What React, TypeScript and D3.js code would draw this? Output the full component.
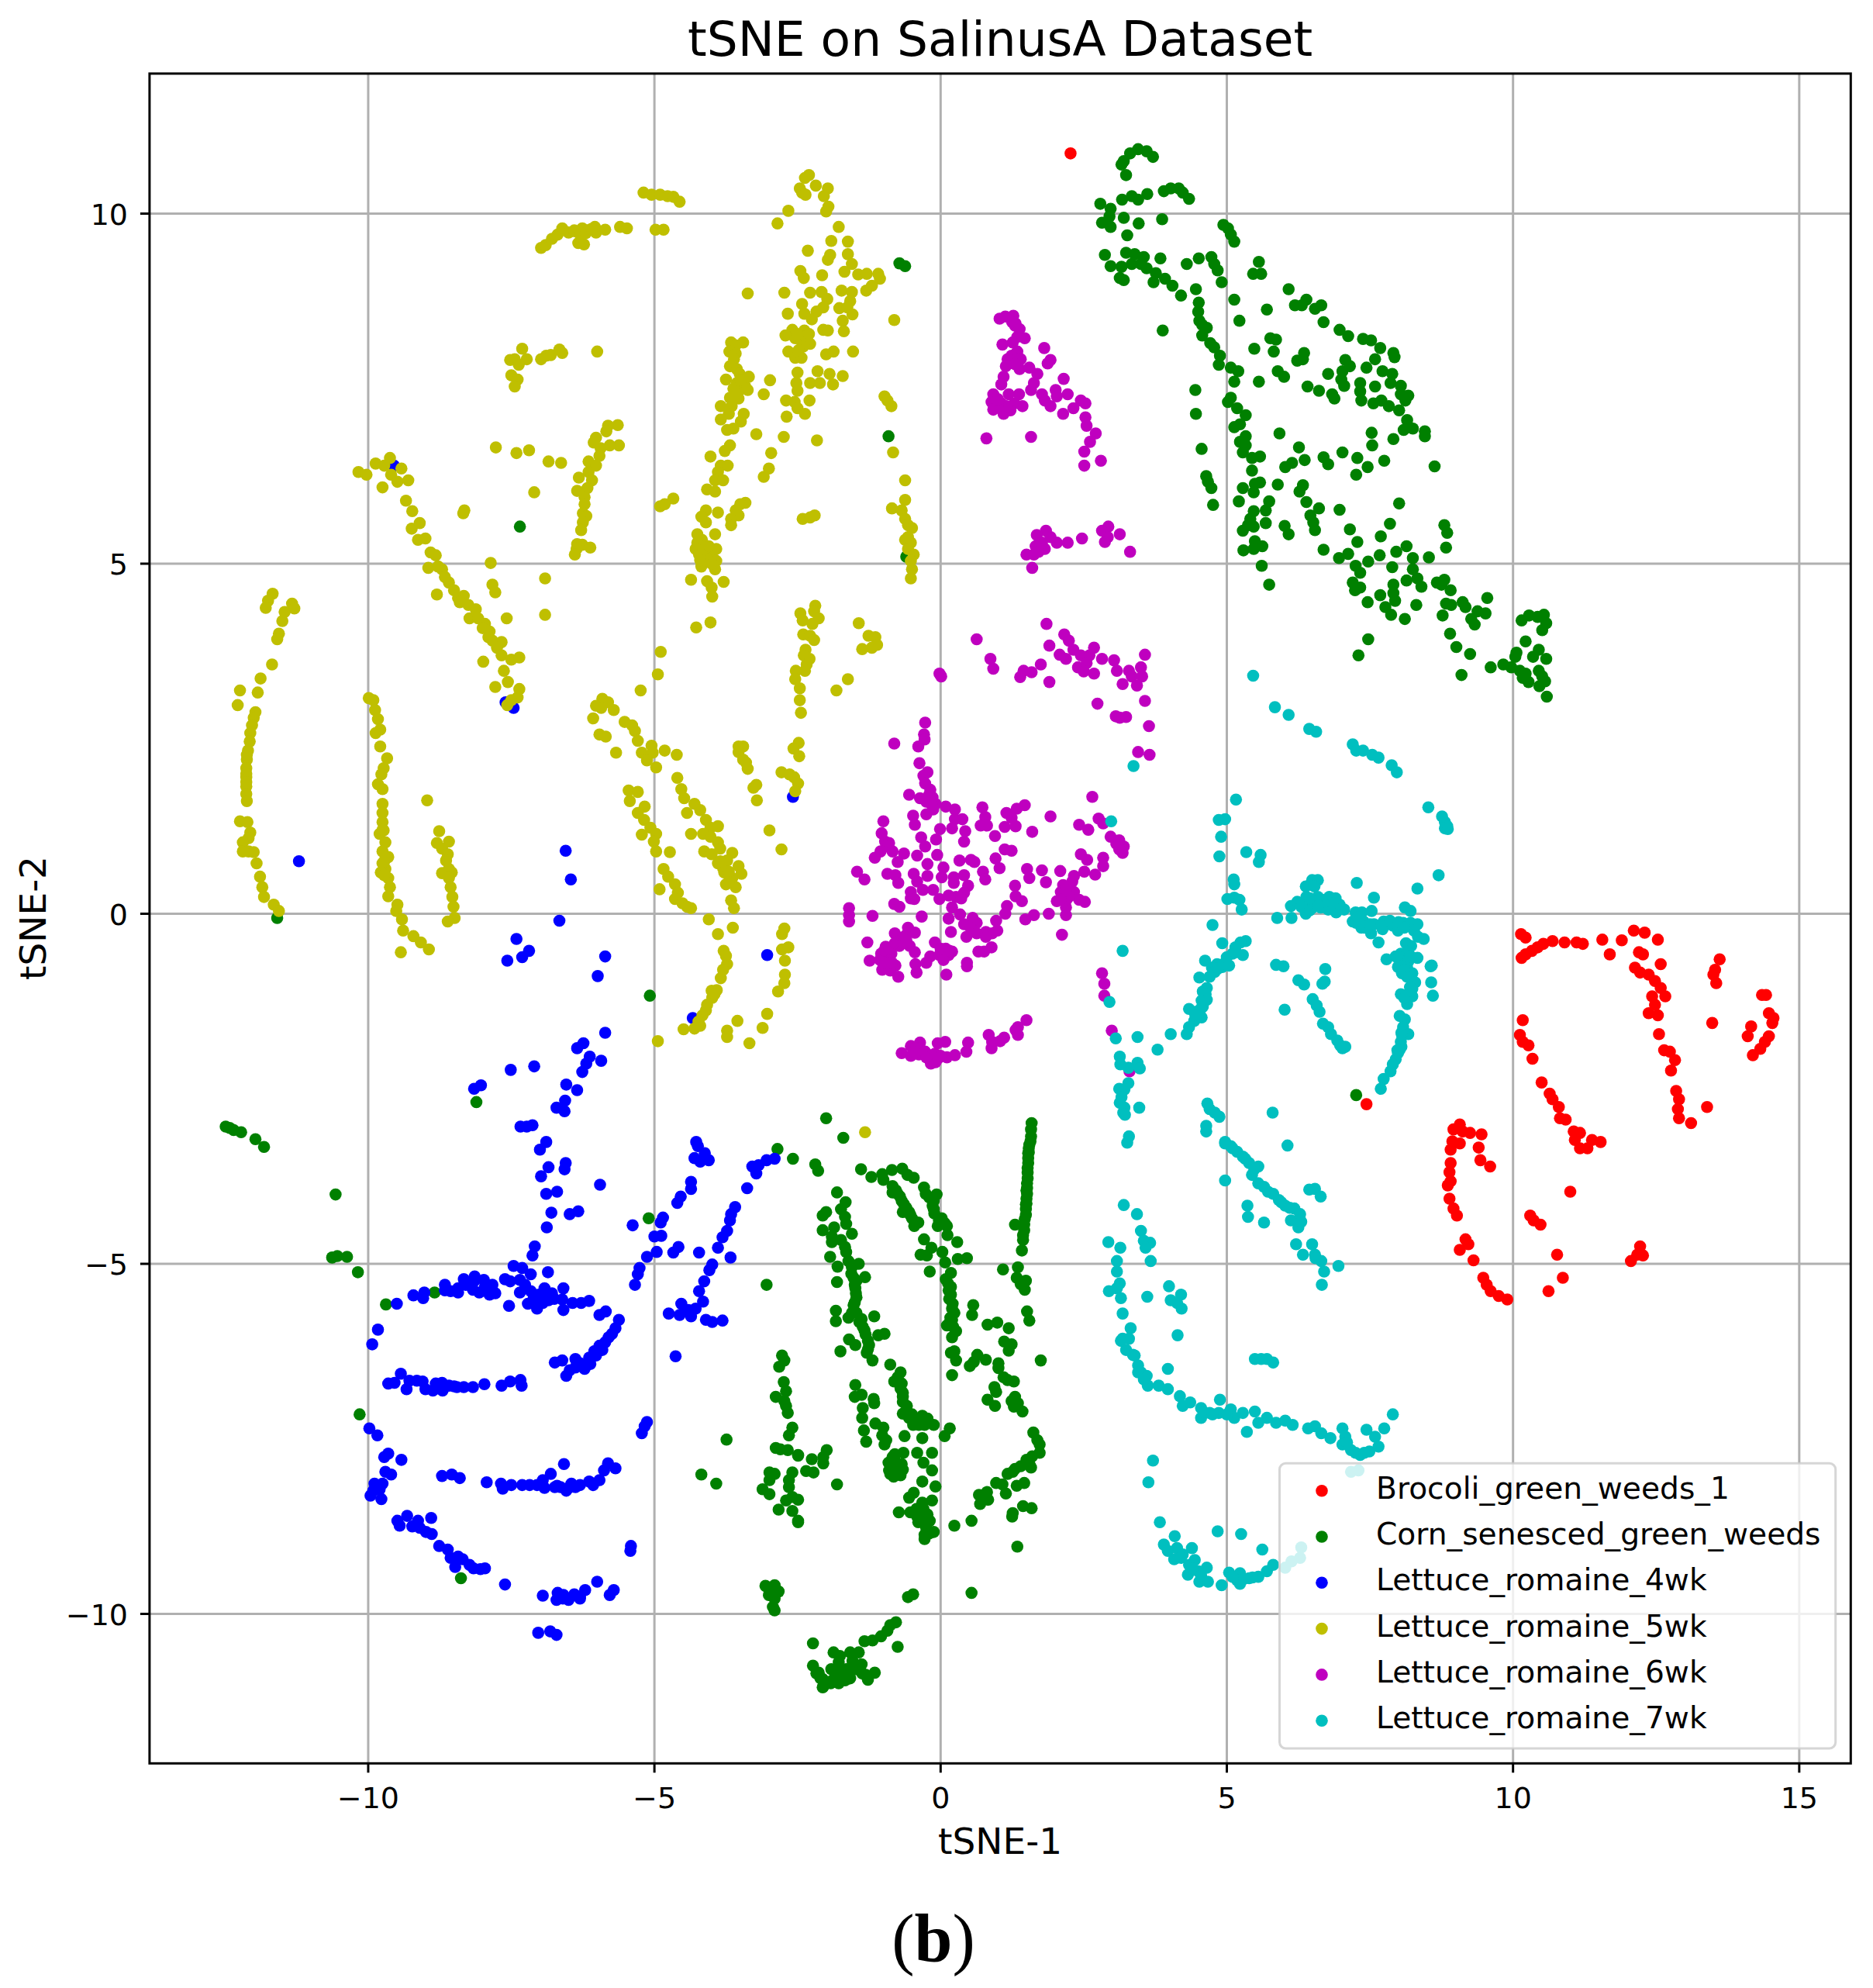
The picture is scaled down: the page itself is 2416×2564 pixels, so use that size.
import React from "react";
import * as d3 from "d3";

const brocoli = [2.27,10.86,7.44,-2.72,
10.14,-.29,10.22,-.34,10.15,-.63,10.22,-.58,10.33,-.53,10.43,-.48,10.53,-.43,10.69,-.39,10.9,-.41,11.11,-.41,11.22,-.43,11.56,-.37,11.69,-.58,11.9,-.38,12.11,-.24,12.3,-.27,12.53,-.37,12.2,-.55,12.27,-.58,12.58,-.72,12.13,-.77,12.22,-.84,12.37,-.87,12.48,-.96,12.43,-1.18,12.58,-1.06,12.66,-1.18,12.48,-1.3,12.37,-1.42,12.53,-1.45,12.55,-1.72,12.64,-1.95,12.74,-1.97,12.83,-2.09,12.76,-2.24,12.85,-2.53,12.9,-2.65,12.88,-2.79,12.9,-2.92,13.11,-2.99,13.39,-2.76,13.48,-1.56,13.61,-.65,13.53,-.8,13.5,-.87,13.55,-.99,14.35,-1.16,14.42,-1.16,14.47,-1.42,14.55,-1.49,14.53,-1.56,14.16,-1.61,14.1,-1.75,14.47,-1.75,14.4,-1.83,14.32,-1.93,14.19,-2.02,
10.17,-1.52,10.12,-1.73,10.17,-1.83,10.27,-1.88,10.34,-2.07,10.5,-2.41,10.64,-2.57,10.69,-2.65,10.8,-2.76,10.82,-2.92,10.92,-2.94,11.06,-3.11,11.17,-3.13,11.08,-3.23,11.17,-3.35,11.3,-3.35,11.38,-3.23,11.53,-3.26,
9.07,-3.01,8.96,-3.08,9.12,-3.11,8.94,-3.25,9.07,-3.28,9.25,-3.13,9.45,-3.15,9.4,-3.34,9.43,-3.52,9.6,-3.61,8.91,-3.37,8.91,-3.56,8.89,-3.69,8.91,-3.82,8.86,-3.88,8.89,-4.07,8.96,-4.21,9.02,-4.31,9.17,-4.65,9.22,-4.72,9.07,-4.8,9.31,-4.95,9.48,-5.2,9.54,-5.3,9.61,-5.39,9.75,-5.46,9.9,-5.51,
11,-3.97,10.3,-4.31,10.36,-4.38,10.48,-4.44,10.77,-4.87,10.87,-5.2,10.62,-5.39,12.22,-4.75,12.17,-4.87,12.06,-4.96,12.27,-4.88];

const cornUpper = [3.16,10.7,3.24,10.55,3.2,10.75,3.31,10.86,3.45,10.92,3.6,10.89,3.71,10.81,3.9,10.32,4.02,10.36,4.16,10.36,4.23,10.3,4.34,10.21,3.61,10.28,3.34,10.25,3.45,10.2,3.17,10.2,2.79,10.14,2.97,10.07,3.2,9.94,2.95,9.96,2.82,9.87,2.97,9.81,3.46,9.86,3.87,9.92,3.26,9.69,4.94,9.84,5.02,9.79,5.07,9.7,5.13,9.6,
2.87,9.41,2.97,9.25,3.24,9.44,3.39,9.42,3.55,9.38,3.84,9.36,3.34,9.28,3.5,9.28,3.6,9.22,3.16,9.24,3.13,9.08,3.2,9.05,3.76,9.15,3.92,9.07,3.72,9.02,4.05,8.97,4.2,8.83,4.3,9.28,4.51,9.36,4.73,9.38,4.78,9.28,4.84,9.19,5.56,9.31,5.46,9.14,5.6,9.14,4.91,9.02,5.13,8.77,4.46,8.92,4.51,8.73,5.7,8.63,5.22,8.47,6.08,8.92,6.19,8.69,6.39,8.77,6.31,8.69,6.54,8.64,6.65,8.69,6.69,8.45,6.97,8.34,7.12,8.25,7.38,8.21,7.52,8.19,7.68,8.08,7.91,8.01,7.93,7.95,3.88,8.33,
4.5,8.6,4.52,8.47,4.57,8.41,4.65,8.37,4.57,8.26,4.71,8.15,4.78,8.09,4.88,7.97,4.86,7.84,5.07,7.8,5.2,7.75,5.13,7.6,5.56,7.6,5.48,8.07,5.76,8.22,5.86,8.2,5.82,8.03,6.35,8.01,6.23,7.9,6.33,7.92,5.89,7.75,6,7.67,6.77,7.71,7.07,7.91,7.15,7.82,7.02,7.75,7.44,7.8,7.59,7.92,7.72,7.75,7.89,7.71,7,7.63,7.05,7.54,6.41,7.53,6.61,7.47,7.33,7.58,7.33,7.46,7.59,7.53,7.86,7.58,8.04,7.54,6.84,7.42,6.88,7.36,7.35,7.33,7.56,7.29,7.7,7.33,7.83,7.25,8.04,7.42,8.17,7.4,8.12,7.33,8.01,7.19,
4.45,7.48,4.46,7.14,5.07,7.37,5.02,7.31,5.18,7.22,5.33,7.12,5.23,6.99,5.13,6.95,5.33,6.82,5.23,6.74,5.33,6.69,5.28,6.59,5.44,6.51,5.58,6.53,5.44,6.33,4.56,6.64,4.64,6.25,4.67,6.17,4.73,6.08,4.76,5.84,
5.92,6.86,6.26,6.66,6.36,6.48,6.14,6.44,6.02,6.38,6.69,6.52,6.77,6.42,7.02,6.59,7.28,6.51,7.46,6.38,7.26,6.27,7.75,6.47,7.53,6.87,7.54,6.69,7.91,6.78,8.15,7.05,8.09,6.91,8.25,6.93,8.46,6.89,8.46,6.82,8.63,6.39,
5.28,6.08,5.49,6.14,5.58,6.16,5.47,6.02,5.89,6.13,6.33,6.12,6.27,6.03,5.21,5.89,5.74,5.89,5.68,5.76,6.39,5.88,6.61,5.79,5.47,5.75,5.41,5.64,5.37,5.55,5.47,5.53,5.28,5.47,5.68,5.58,6.46,5.69,6.51,5.59,6.54,5.48,6.01,5.54,6.08,5.42,6.97,5.77,7.15,5.49,7.85,5.57,8.01,5.86,8.8,5.55,8.85,5.44,8.83,5.23,7.69,5.39,7.28,5.31,8.14,5.25,7.96,5.17,8.53,5.09,8.25,5.08,7.67,5.12,7.12,5.14,6.96,5.08,6.69,5.2,5.49,5.32,5.62,5.25,5.47,5.21,5.29,5.19,5.61,4.97,5.74,4.7,
7.25,4.97,7.47,5.03,7.89,4.95,7.33,4.87,8.25,4.92,8.33,4.79,8.14,4.76,7.91,4.7,8.4,4.67,8.67,4.73,8.8,4.77,8.75,4.7,7.2,4.73,7.33,4.66,7.24,4.62,7.68,4.55,7.91,4.58,7.94,4.47,8.91,4.62,7.46,4.45,7.77,4.38,8.31,4.41,8.83,4.43,8.92,4.41,9.12,4.45,9.17,4.38,9.55,4.51,9.38,4.32,9.52,4.29,9.27,4.21,7.87,4.27,8.11,4.21,8.77,4.26,9.33,4.13,8.9,4,7.47,3.92,7.3,3.69,9.01,3.81,9.25,3.71,9.1,3.41,9.61,3.52,9.83,3.56,9.97,3.52,
10.15,4.19,10.28,4.26,10.43,4.24,10.54,4.27,10.58,4.15,10.51,4.05,10.22,3.89,10.06,3.73,10.04,3.67,10.45,3.77,10.35,3.67,10.58,3.64,10.12,3.47,10.22,3.43,10.17,3.37,10.45,3.47,10.51,3.39,10.27,3.31,10.56,3.32,10.46,3.25,10.59,3.1];

const cornStray = [-.72,9.29,-.62,9.25,-.91,6.82,-7.35,5.53,-11.59,-.06,-.6,5.1,7.26,-2.59,-5.08,-1.17,-8.11,-2.69,-12.49,-3.04,-12.42,-3.06,-12.35,-3.09,-12.22,-3.12,-11.97,-3.22,-11.82,-3.33,-10.57,-4.01,-10.63,-4.91,-10.54,-4.89,-10.37,-4.9,-10.18,-5.12,-9.69,-5.58,-8.84,-5.41,-10.15,-7.15,-8.38,-9.49,-5.1,-4.35,-2,-2.92,-1.7,-3.2,-2.85,-3.36,-2.58,-3.5,-3.04,-5.3,-2.77,-6.31,-2.73,-6.38,-2.82,-6.47,-2.74,-6.69,-2.7,-6.82,-2.88,-6.9,-2.73,-6.96,-2.7,-7.03,-2.67,-7.13,-2.59,-7.34,-2.65,-7.45,-3.74,-7.51,-2.88,-7.63,-2.8,-7.65,-2.67,-7.66,-2.49,-7.74,-4.18,-8.01,-2.59,-7.98,-2.99,-7.98,-2.9,-8,-2.65,-8.09,-2.99,-8.09,-3.92,-8.14,-2.65,-8.19,-3.11,-8.22,-2.99,-8.29,-2.59,-8.33,-2.7,-8.38,-2.83,-8.51,-2.59,-8.53,-2.49,-8.69,.54,-9.7,
-3.06,-9.6,-2.99,-9.63,-2.9,-9.59,-2.83,-9.68,-3,-9.73,-2.9,-9.78,-2.93,-9.9,-2.9,-9.95,-.57,-9.76,-.48,-9.72,
-.88,-10.16,-.78,-10.12,-.93,-10.24,-1.04,-10.32,-1.19,-10.38,-1.33,-10.39,-.75,-10.47,-2.23,-10.42,-1.87,-10.55,-1.43,-10.55,-1.58,-10.55,-1.76,-10.6,-1.54,-10.67,-1.78,-10.69,-2.23,-10.74,-1.4,-10.74,-1.91,-10.79,-2.13,-10.84,-1.65,-10.79,-1.15,-10.84,-1.31,-10.87,-2.06,-10.93,-1.91,-10.96,-1.78,-10.95,-1.6,-10.92,-1.27,-10.94,-2.06,-11.05,
1.59,-2.99,1.58,-3.08,1.58,-3.18,1.55,-3.3,1.53,-3.42,1.54,-3.41,1.53,-3.56,1.52,-3.7,1.51,-3.85,1.51,-4,1.49,-4.15,1.49,-4.3,1.5,-3.95,1.5,-4.14];

const cornCentre = [-2.19,-3.58,-2.14,-3.67,-1.39,-3.65,-1.21,-3.76,-1.02,-3.72,-1,-3.8,-.85,-3.66,-.67,-3.64,-.58,-3.73,-.47,-3.77,-.84,-3.89,-.84,-3.98,-.71,-4.04,-.64,-4.15,-.66,-4.26,-.55,-4.26,-.5,-4.35,-.39,-4.41,-.46,-4.46,-.29,-3.91,-.26,-4,-.07,-4.01,-.14,-4.17,-.11,-4.28,.02,-4.35,-.05,-4.46,.11,-4.46,.12,-4.59,.29,-4.69,-.29,-4.65,-.16,-4.77,.03,-4.83,-.35,-4.87,-.24,-4.88,.08,-4.98,.3,-4.93,.46,-4.92,-.19,-5.11,.18,-5.13,.09,-5.22,.18,-5.33,.18,-5.44,.21,-5.57,.24,-5.7,.17,-5.77,.11,-5.88,.27,-5.96,.2,-6.05,.18,-6.27,.27,-6.38,.24,-6.25,.2,-6.59,
.57,-5.59,.55,-5.73,.82,-5.87,.99,-5.84,1.19,-5.92,1.11,-6.11,1.24,-6.15,1.19,-6.24,.64,-6.3,.79,-6.37,.51,-6.46,.58,-6.4,1.01,-6.42,1.01,-6.49,1.1,-6.62,1.28,-6.68,1.17,-6.66,.94,-6.76,.97,-6.83,.82,-6.94,.95,-7.03,1.3,-6.9,1.24,-6.96,1.35,-6.99,1.28,-7.04,1.43,-7.11,1.75,-6.38,1.51,-5.68,1.55,-5.81,1.09,-5.08,1.35,-5.05,1.33,-5.2,1.49,-5.24,1.4,-5.29,1.47,-5.37,1.42,-4.81,1.44,-4.59,1.3,-4.44,1.46,-4.44,
1.62,-7.41,1.69,-7.52,1.73,-7.58,1.73,-7.7,1.6,-7.75,1.58,-7.91,1.4,-7.89,1.26,-7.97,1.17,-8,1.46,-8.13,1.33,-8.17,.97,-8.13,1.08,-8.15,1.14,-8.28,.81,-8.26,.67,-8.3,.83,-8.37,.69,-8.43,1.44,-8.46,1.59,-8.49,1.26,-8.56,1.25,-8.61,.54,-8.67,.24,-8.74,1.34,-9.04,
-1.81,-3.98,-1.66,-4.12,-1.74,-4.22,-2,-4.26,-2.06,-4.31,-1.67,-4.33,-1.65,-4.43,-1.55,-4.57,-2.06,-4.52,-1.86,-4.48,-1.9,-4.61,-1.9,-4.69,-1.74,-4.66,-1.67,-4.76,-1.65,-4.83,-1.93,-4.9,-1.8,-5.04,-1.61,-4.96,-1.43,-5,-1.32,-5.19,-1.56,-5.14,-1.47,-5.24,-1.81,-5.26,-1.49,-5.35,-1.47,-5.48,-1.52,-5.59,-1.83,-5.67,-1.83,-5.82,-1.61,-5.77,-1.47,-5.7,-1.38,-5.79,-1.16,-5.75,-1.36,-5.9,-1.31,-6.01,-.98,-6,-1.09,-6.02,-1.6,-6.08,-1.49,-6.16,-1.25,-6.16,-1.75,-6.25,-1.29,-6.27,-1.19,-6.38,-.88,-6.44,-.7,-6.55,-.81,-6.68,-.68,-6.71,-.66,-6.84,-.66,-6.97,-.59,-7.03,-.66,-7.14,-.5,-7.15,-.32,-7.17,-.23,-7.21,-.48,-7.3,-.28,-7.3,-.12,-7.3,.16,-7.35,.07,-7.46,-.32,-7.49,-.63,-7.46,
-1.49,-6.73,-1.38,-6.87,-1.5,-6.9,-1.17,-6.93,-1.16,-6.99,-1.36,-7.06,-1.37,-7.2,-1.34,-7.38,-1.3,-7.54,-1.14,-7.28,-1,-7.34,-1.02,-7.45,-.95,-7.52,-.98,-7.58,
-.65,-7.7,-.84,-7.76,-.91,-7.84,-.79,-7.82,-.68,-7.86,-.66,-7.94,-.88,-8,-.82,-8.04,-.7,-8.02,-.41,-7.7,-.3,-7.84,-.15,-7.7,-.15,-7.95,-.32,-8.11,-.09,-8.18,-.47,-8.27,-.55,-8.34,-.15,-8.38,-.32,-8.41,-.73,-8.55,-.53,-8.55,-.23,-8.58,-.41,-8.61,-.39,-8.69,-.19,-8.67,-.12,-8.83,-.28,-8.87,-.28,-8.93,
-1.99,-7.66,-2.05,-7.76,-2.05,-7.85,-2.25,-7.79,-2.35,-7.96,-2.22,-7.98,-2.49,-7.73,-1.81,-8.15,-2.49,-8.37,-2.49,-8.67];

const cornDense = [-2.05,-11.04,-1.92,-10.99,-1.78,-10.99,-1.67,-10.95,-1.8,-10.87,-1.58,-10.92,-1.87,-10.81,-2.1,-10.92,-2.17,-10.85,-1.69,-10.81,-1.37,-10.85,-1.3,-10.88,-1.48,-10.79,-1.38,-10.72,-1.54,-10.74,
1.57,-3.25,1.54,-3.35,1.53,-3.49,1.52,-3.63,1.52,-3.78,1.51,-3.92,1.5,-4.07,1.49,-4.22,1.47,-4.36,1.46,-4.52,1.44,-4.66,
-.78,-3.95,-.75,-4,-.68,-4.1,-.6,-4.2,-.53,-4.3,-.45,-4.4,-.2,-4.05,-.12,-4.1,-.12,-4.22,-.03,-4.38,.07,-4.42,.13,-5.28,.14,-5.38,.15,-5.5,.2,-5.64,.2,-5.8,.15,-5.85,.22,-5.9,-1.52,-5.2,-1.5,-5.3,-1.55,-5.05,-1.48,-5.42,-1.5,-5.55,-1.55,-5.7,-1.42,-5.83,-1.33,-5.95,-1.27,-6.1,-1.27,-6.22,-.75,-6.62,-.7,-6.78,-.66,-6.9,-.6,-7.1,-.55,-7.2,-.42,-7.22,-.38,-7.3,-.84,-7.9,-.78,-7.92,-.75,-7.98,-.8,-7.72,-.9,-7.95,-.42,-8.5,-.35,-8.55,-.3,-8.7,-.25,-8.78,-.2,-8.85,-.3,-8.5,1.5,-7.8,1.55,-7.85,1.3,-7.93];

const week4 = [-11.21,.75,-6.55,.9,-6.46,.49,-6.66,-.1,-7.6,3.02,-7.46,2.94,-2.58,1.67,-9.55,6.4,-4.33,-1.49,
-7.41,-.36,-7.57,-.67,-7.31,-.62,-7.19,-.53,-5.86,-.61,-5.99,-.89,-3.03,-.59,-5.86,-1.7,-6.24,-1.85,-6.35,-1.92,-6.13,-2.04,-5.93,-2.1,-6.19,-2.14,-6.26,-2.26,-7.1,-2.18,-7.51,-2.23,-8.03,-2.45,-8.15,-2.5,-6.54,-2.44,-6.35,-2.52,-6.56,-2.67,-6.71,-2.77,-6.57,-2.82,-7.34,-3.04,-7.23,-3.04,-7.13,-3.02,-6.89,-3.26,-7,-3.37,-6.55,-3.56,-6.57,-3.65,-6.85,-3.62,-6.98,-3.75,-5.95,-3.87,-6.89,-4,-6.7,-3.97,-6.8,-4.27,-6.48,-4.29,-6.33,-4.25,-6.88,-4.48,-7.09,-4.75,-7.13,-4.88,-7.46,-5.03,-7.31,-5.06,-7.16,-5.15,-6.86,-5.12,
-9.21,-5.45,-9.02,-5.41,-9.04,-5.49,-8.66,-5.3,-8.66,-5.38,-8.56,-5.39,-8.43,-5.35,-8.33,-5.22,-8.43,-5.41,-8.25,-5.3,-8.14,-5.18,-8.17,-5.37,-8.06,-5.41,-7.98,-5.23,-7.96,-5.33,-7.83,-5.3,-7.88,-5.44,-7.78,-5.42,-7.61,-5.22,-7.52,-5.25,-7.54,-5.6,-7.35,-5.23,-7.35,-5.41,-7.26,-5.3,-7.16,-5.39,-7.21,-5.57,-7.11,-5.49,-7.02,-5.44,-6.92,-5.35,-7.05,-5.64,-6.95,-5.56,-6.79,-5.42,-6.85,-5.52,-6.59,-5.35,-6.61,-5.51,-6.59,-5.66,-6.43,-5.56,-6.28,-5.56,-6.14,-5.53,-5.96,-5.73,-5.85,-5.68,-5.62,-5.8,-5.68,-5.92,-5.74,-6,-5.86,-6.12,-5.96,-6.17,-5.91,-6.23,-6.02,-6.31,-6.14,-6.34,-6.38,-6.36,-6.12,-6.43,-6.22,-6.5,-6.38,-6.48,-6.48,-6.52,-6.54,-6.6,-6.61,-6.38,-6.74,-6.41,
-9.93,-6.15,-9.83,-5.94,-9.5,-5.57,-9.65,-6.71,-9.54,-6.7,-9.43,-6.57,-9.33,-6.79,-9.28,-6.67,-9.15,-6.67,-9.05,-6.68,-9,-6.79,-8.87,-6.81,-8.82,-6.71,-8.7,-6.81,-8.71,-6.7,-8.59,-6.74,-8.45,-6.76,-8.33,-6.76,-8.17,-6.76,-7.97,-6.72,-7.67,-6.74,-7.52,-6.68,-7.34,-6.66,-7.32,-6.74,
-4.63,-6.32,-5.13,-7.26,-5.17,-7.32,-5.22,-7.42,
-9.98,-7.35,-9.84,-7.45,-9.65,-7.71,-9.72,-7.76,-9.42,-7.8,-9.7,-7.97,-9.6,-8.01,-9.89,-8.14,-9.75,-8.14,-9.91,-8.24,-9.8,-8.22,-9.96,-8.31,-9.77,-8.36,-8.71,-8.03,-8.54,-8.01,-8.4,-8.06,-7.93,-8.12,-7.68,-8.14,-7.65,-8.21,-7.5,-8.16,-7.31,-8.16,-7.18,-8.16,-7.05,-8.16,-6.95,-8.09,-6.92,-8.2,-6.81,-8,-6.74,-8.19,-6.58,-7.86,-6.64,-8.19,-6.54,-8.24,-6.45,-8.14,-6.38,-8.19,-6.3,-8.16,-6.14,-8.11,-6.07,-8.16,-5.96,-8.09,-5.88,-7.95,-5.81,-7.85,-5.68,-7.92,
-9.49,-8.67,-9.32,-8.6,-9.45,-8.74,-9.23,-8.75,-9.13,-8.67,-9.1,-8.77,-8.9,-8.63,-8.99,-8.83,-8.89,-8.86,-8.76,-9.03,-8.61,-9.08,-8.56,-9.2,-8.43,-9.18,-8.48,-9.33,-8.35,-9.22,-8.23,-9.3,-8.16,-9.35,-8.04,-9.36,-7.96,-9.35,-7.61,-9.58,
-6.95,-9.74,-6.69,-9.7,-6.71,-9.8,-6.59,-9.73,-6.5,-9.8,-6.4,-9.72,-6.3,-9.78,-6.21,-9.66,-6,-9.54,-5.71,-9.66,-5.78,-9.73,-5.41,-9.03,-5.42,-9.1,-7.03,-10.27,-6.82,-10.25,-6.71,-10.3,
-4.27,-3.26,-4.24,-3.32,-4.12,-3.42,-4.3,-3.49,-4.2,-3.54,-4.05,-3.52,-4.36,-3.83,-4.36,-3.93,-4.54,-4.04,-4.6,-4.13,-4.85,-4.34,-4.89,-4.41,-5.38,-4.45,-5,-4.61,-4.88,-4.6,-4.58,-4.76,-4.67,-4.84,-4.96,-4.83,-5.13,-4.9,-5.26,-5.06,-5.29,-5.15,-5.34,-5.3,-4.22,-4.84,-3.67,-4.91,-3.99,-5.01,-4.04,-5.09,-4.13,-5.25,-4.22,-5.39,-4.15,-5.54,-4.53,-5.57,-4.75,-5.71,-4.56,-5.73,-4.41,-5.66,-4.36,-5.75,-4.28,-5.64,-4.1,-5.8,-3.99,-5.83,-3.81,-5.81,
-3.59,-4.19,-3.66,-4.29,-3.68,-4.38,-3.73,-4.53,-3.81,-4.62,-3.89,-4.77,-3.38,-3.92,-3.29,-3.61,-3.22,-3.71,-3.18,-3.59,-3.04,-3.52,-2.9,-3.5,
-7.1,-5.5,-7,-5.55,-6.9,-5.45,-6.75,-5.5,-8.15,-5.25,-8.3,-5.3,-5.8,-6.05,-6.05,-6.25,-6.3,-6.42,-6.7,-8.17,-6.5,-8.2,-6.3,-9.75,-6.6,-9.78,-8.8,-6.78,-8.5,-6.75];

const week5 = [-11.67,4.57,-11.75,4.47,-11.79,4.37,-11.33,4.43,-11.29,4.36,-11.46,4.31,-11.5,4.18,-11.56,4,-11.59,3.92,-11.68,3.56,-11.88,3.36,-11.93,3.16,-12.24,3.19,-12.28,2.98,-11.97,2.88,-12,2.8,-12.03,2.69,-12.06,2.58,-12.07,2.46,-12.1,2.33,-12.12,2.2,-12.13,2.08,-12.13,1.95,-12.13,1.82,-12.13,1.71,-12.12,1.61,-12.24,1.32,-12.11,1.31,-12.06,1.16,-12.09,1.08,-12.19,1.02,-12.19,.89,-12.09,.89,-12,.88,-11.95,.72,-11.89,.53,-11.85,.38,-11.82,.24,-11.65,.13,-11.56,.04,
-9.99,3.08,-9.91,3.05,-9.88,2.91,-9.83,2.78,-9.79,2.63,-9.87,2.58,-9.79,2.39,-9.67,2.22,-9.73,2.08,-9.77,1.99,-9.83,1.85,-9.75,1.78,-9.75,1.57,-9.75,1.44,-9.75,1.31,-9.73,1.19,-9.8,1.14,-9.7,1.02,-9.75,.89,-9.65,.81,-9.75,.72,-9.7,.64,-9.78,.59,-9.65,.51,-9.62,.38,-9.65,.25,-9.49,.13,-9.51,.04,-9.41,-.08,-9.39,-.24,-9.21,-.32,-9.08,-.41,-8.94,-.51,-9.43,-.55,
-8.97,1.62,-8.76,1.18,-8.59,1.03,-8.8,1.01,-8.71,.93,-8.61,.85,-8.64,.76,-8.71,.58,-8.59,.64,-8.54,.59,-8.59,.51,-8.56,.38,-8.53,.24,-8.51,.1,-8.49,-.06,-8.61,-.11,
-10.17,6.31,-10.03,6.27,-9.87,6.43,-9.62,6.51,-9.72,6.4,-9.6,6.27,-9.75,6.09,-9.42,6.36,-9.49,6.17,-9.3,6.19,-9.34,5.9,-9.23,5.75,-9.24,5.5,-9.1,5.58,-9.13,5.34,-9,5.36,-8.91,5.16,-8.82,5.12,-8.95,4.94,-8.78,4.96,-8.71,4.92,-8.66,4.81,-8.59,4.73,-8.8,4.56,-8.5,4.62,-8.43,4.51,-8.33,4.54,-8.25,4.41,-8.12,4.35,-8.23,4.22,-8.08,4.22,-7.96,4.14,-7.88,4.03,-7.83,3.9,-7.67,3.88,-7.75,3.8,-7.67,3.69,-7.99,3.6,-7.5,3.63,-7.36,3.66,-7.63,3.47,-7.78,3.24,-7.56,3.31,-7.36,3.21,-7.39,3.09,-7.5,3.05,-7.57,2.98,
-8.32,5.76,-8.34,5.72,-7.86,5.01,-7.83,4.7,-7.78,4.59,-7.58,4.22,-7.77,6.66,-7.41,6.58,-7.19,6.62,-6.85,6.46,-6.63,6.44,-7.1,6.02,-6.91,4.79,-6.91,4.27,
-7.52,7.91,-7.44,7.92,-7.31,8.07,-7.23,7.92,-7.37,7.84,-7.5,7.69,-7.39,7.63,-7.44,7.53,-6.98,7.92,-6.89,7.97,-6.81,7.98,-6.66,8.06,-6.61,8.01,-6,8.03,
-5.64,6.98,-5.81,6.97,-5.84,6.89,-6.02,6.8,-6.06,6.73,-5.62,6.69,-5.78,6.69,-5.94,6.65,-5.96,6.54,-6.15,6.46,-6.02,6.4,-6.15,6.31,-6.32,6.23,-6.09,6.19,-6.17,6.08,-6.35,6.04,-6.22,5.95,-6.22,5.85,-6.25,5.72,-6.19,5.68,-6.25,5.59,-6.28,5.48,-6.35,5.28,-6.26,5.27,-6.12,5.23,-6.36,5.21,-6.39,5.13,
-6.98,9.51,-6.9,9.55,-6.79,9.64,-6.69,9.7,-6.61,9.79,-6.5,9.73,-6.4,9.76,-6.33,9.58,-6.23,9.56,-6.26,9.79,-6.17,9.76,-6.04,9.81,-6.02,9.73,-5.86,9.77,-5.6,9.81,-5.48,9.79,-4.98,9.77,-4.84,9.77,-5.19,10.3,-5.05,10.27,-4.9,10.27,-4.77,10.25,-4.67,10.24,-4.56,10.17,
-3.66,8.16,-3.45,8.16,-3.58,8.12,-3.69,8.03,-3.58,8,-3.61,7.92,-3.68,7.82,-3.56,7.78,-3.75,7.63,-3.51,7.71,-3.35,7.67,-3.56,7.58,-3.42,7.54,-3.56,7.46,-3.37,7.48,-3.68,7.37,-3.53,7.36,-3.84,7.25,-3.65,7.25,-3.7,7.14,-3.44,7.14,-3.84,7.06,-3.49,7.03,-3.62,6.93,-3.73,6.91,-3.68,6.69,-3.77,6.61,-4.02,6.53,-3.84,6.4,-3.72,6.4,-3.89,6.31,-3.94,6.19,-3.8,6.19,-4.08,6.06,-3.94,6.03,-4.1,5.76,-3.89,5.73,-4.18,5.67,-4.1,5.59,-4.25,5.42,-3.94,5.42,-4.17,5.34,-4.25,5.3,-4.28,5.21,-3.92,5.21,-4.22,5.13,-4,5.13,-4.1,5.04,-3.92,5.04,-4.18,4.96,-3.94,4.92,-4.36,4.77,-4.08,4.75,-3.79,4.74,-4,4.66,-3.99,4.53,-4.27,4.09,-4.02,4.16,
-3.41,5.87,-3.5,5.85,-3.58,5.76,-3.53,5.69,-3.66,5.64,-3.66,5.55,-4.9,5.82,-4.82,5.85,-4.67,5.93,-2.41,5.64,-2.28,5.66,-2.2,5.69,-3.09,7.42,-2.98,7.62,-3.22,6.85,-2.74,6.81,-2.96,6.58,-3,6.36,-3.09,6.24,-3.37,8.86,
-2.3,10.55,-2.37,10.51,-2.18,10.4,-2.46,10.36,-2.42,10.3,-2.36,10.27,-1.97,10.36,-2.04,10.25,-1.96,10.1,-2,10.03,-2.66,10.04,-2.85,9.86,-1.78,9.81,-1.91,9.61,-1.62,9.6,-2.32,9.47,-1.93,9.41,-1.97,9.34,-1.62,9.42,-1.55,9.28,-2.45,9.18,-2.39,9.08,-2.07,9.12,-1.68,9.17,-1.44,9.13,-1.29,9.14,-1.09,9.14,-1.06,9.07,-1.2,8.97,-1.3,8.9,-2.73,8.87,-2.28,8.87,-2.08,8.88,-1.73,8.9,-1.55,8.88,-1.98,8.78,-2.42,8.71,-1.58,8.75,-2.05,8.66,-1.77,8.65,-1.63,8.66,-2.67,8.57,-2.38,8.57,-2.17,8.6,-2.25,8.49,-1.54,8.56,-1.71,8.47,-.81,8.48,-2.59,8.34,-2.38,8.33,-2.05,8.34,-1.97,8.33,-1.69,8.32,-2.71,8.26,-2.54,8.22,-2.43,8.18,-2.28,8.14,-2.66,8.03,-1.87,8.03,-2,7.99,-1.53,8.03,-2.54,7.94,-2.43,7.94,-2.5,7.73,-2.15,7.75,-1.94,7.71,-1.71,7.68,-2.52,7.58,-2.28,7.58,-2.11,7.58,-1.88,7.56,-2.5,7.47,-2.7,7.33,-2.55,7.31,-2.29,7.33,-2.5,7.22,-2.37,7.14,-2.69,7.1,-2.16,6.76,
-.98,7.39,-.93,7.33,-.86,7.25,-.83,6.59,-.62,6.19,-.85,5.79,-.62,5.91,-.68,5.76,-.62,5.64,-.57,5.55,-.5,5.51,-.57,5.38,-.62,5.34,-.52,5.3,-.57,5.21,-.47,5.13,-.52,5.04,-.5,4.92,-.52,4.79,
-2.19,4.4,-2.21,4.32,-2.45,4.29,-2.41,4.19,-2.13,4.22,-2.24,4.14,-2.4,3.99,-2.28,3.97,-2.21,3.91,-2.36,3.77,-2.39,3.69,-2.29,3.64,-2.34,3.56,-2.37,3.47,-2.53,3.47,-2.54,3.35,-2.46,3.22,-2.46,3.05,-2.44,2.87,-2.48,2.44,-2.57,2.36,-2.47,2.25,-1.43,4.15,-1.26,3.97,-1.14,3.95,-1.37,3.78,-1.2,3.8,-1.11,3.84,-1.62,3.35,-1.82,3.19,-5.24,3.19,-4.94,3.42,-4.89,3.74,
-5.91,3.07,-5.81,3.02,-6.02,2.97,-5.93,2.94,-5.71,2.91,-6.07,2.79,-5.52,2.74,-5.39,2.69,-5.34,2.61,-5.96,2.56,-5.85,2.53,-5.29,2.47,-5.67,2.3,-5.05,2.4,-5.22,2.3,-5.03,2.3,-4.82,2.33,-4.61,2.27,-5.13,2.19,-4.97,2.09,-4.6,1.94,-4.53,1.78,-4.48,1.65,-5.45,1.76,-5.29,1.74,-5.43,1.61,-5.17,1.53,-5.29,1.44,-4.3,1.57,-4.43,1.44,-4.2,1.48,-5.18,1.34,-4.1,1.34,-5.07,1.23,-4.02,1.23,-3.89,1.25,-4.15,1.14,-5.22,1.13,-4.97,1.14,-4.36,1.14,-5.01,1.03,-3.89,1.02,-4.97,.89,-4.73,.88,-4.13,.89,-4,.85,-3.85,.93,-3.64,.87,-3.89,.72,-3.73,.76,-3.53,.68,-3.78,.59,-3.48,.57,-3.64,.51,-3.75,.42,-3.58,.38,-3.66,.19,-3.61,.08,-4.84,.64,-4.76,.53,-4.91,.35,-4.64,.42,-4.59,.3,-4.64,.21,-4.51,.15,-4.43,.1,-4.36,.08,
-3.53,2.39,-3.45,2.39,-3.53,2.31,-3.45,2.2,-3.4,2.16,-3.37,2.07,-3.27,1.8,-3.22,1.84,-3.21,1.62,-2.99,1.19,-2.78,.92,-2.78,2.02,-2.64,1.99,-2.56,1.95,-2.49,1.86,-2.54,1.75,
-3.89,-.29,-3.79,-.53,-3.73,-.72,-3.84,-.92,-3.91,-1.09,-3.99,-1.2,-4.08,-1.3,-4.16,-1.45,-4.23,-1.54,-4.3,-1.64,-4.49,-1.65,-3.73,-1.67,-3.73,-1.76,-3.55,-1.53,-3.34,-1.85,-3.11,-1.63,-3.03,-1.43,-2.84,-1.11,-2.73,-.99,-2.72,-.87,-2.72,-.67,-2.77,-.51,-2.66,-.48,-2.77,-.29,-4.94,-1.82,-1.32,-3.12,-4.05,-.08,-3.63,-.2,-2.73,-.21,
-2.35,8.2,-2.4,8.1,-2.48,8.05,-2.3,8.28,-2.5,8.28,-4.1,5.1,-4.15,5.2,-4.05,5.25,-4,5,-4.2,5.05,-3.55,7.42,-3.62,7.5,-3.5,7.62,-3.6,7.38,-4.02,1.1,-3.8,.65,-3.7,.6,-3.7,.45,-3.85,.75,-9.72,.75,-9.72,.55,-9.75,1.2,-4.1,-1.38,-4,-1.1,-3.95,-1.15,-4.2,-1.6,-3.8,-.8,-3.75,-.6,-6.4,9.75,-6.3,9.7,-6.2,9.72,-6.1,9.78,-8,4.08,-7.9,3.95,-8.4,4.45,-12.12,2.27,-12.13,2,-12.13,1.88];

const week6 = [1.03,8.5,1.13,8.53,1.27,8.54,1.31,8.43,1.38,8.35,1.34,8.24,1.47,8.22,1.08,8.13,1.26,8.16,1.81,8.08,1.34,8.03,1.24,7.97,1.17,7.92,1.4,7.92,1.92,7.91,1.87,7.86,1.14,7.82,1.38,7.78,1.55,7.8,1.69,7.71,2.15,7.64,1.1,7.67,1.63,7.58,1.06,7.56,1.58,7.48,2.01,7.48,.92,7.42,1.19,7.42,1.37,7.42,2.03,7.39,2.22,7.42,1.77,7.42,.89,7.31,1.06,7.29,1.29,7.29,1.43,7.25,1.82,7.33,1.92,7.25,.92,7.2,1.1,7.14,1.22,7.19,2.14,7.14,2.32,7.22,2.45,7.33,2.53,7.29,2.53,7.09,2.55,6.97,2.71,6.86,2.61,6.74,.8,6.79,1.58,6.81,2.51,6.6,2.8,6.47,2.51,6.4,
1.84,5.47,1.68,5.41,1.77,5.3,1.92,5.38,2.03,5.3,2.22,5.3,1.66,5.25,1.82,5.21,1.5,5.13,1.63,5.13,1.71,5.17,1.6,4.94,2.47,5.36,2.93,5.53,2.82,5.47,3.13,5.42,2.92,5.38,2.87,5.31,3.31,5.17,
1.85,4.14,.63,3.92,2.16,3.99,2.24,3.9,1.9,3.83,2.32,3.77,2.68,3.8,2.08,3.7,2.19,3.64,2.45,3.69,2.6,3.69,3.57,3.7,.87,3.64,.92,3.5,3.03,3.62,2.82,3.64,2.4,3.52,2.55,3.58,3.08,3.47,3.5,3.52,3.29,3.47,2.5,3.46,2.68,3.43,1.45,3.47,1.59,3.45,1.75,3.56,1.39,3.38,1.9,3.31,-.02,3.43,.01,3.39,3.34,3.39,3.52,3.39,3.18,3.28,3.43,3.26,2.74,3,3.57,3.04,3.06,2.82,3.13,2.8,3.24,2.81,3.64,2.68,3.45,2.31,3.65,2.27,
-.81,2.43,-.29,2.56,-.28,2.49,-.39,2.39,-.27,2.73,-.37,2.15,-.23,2.02,-.3,1.97,-.27,1.86,-.18,1.77,-.55,1.7,-.36,1.65,-.23,1.64,-.14,1.66,-.18,1.59,-.09,1.57,-.13,1.49,-.25,1.42,.09,1.53,.25,1.49,-.48,1.4,-.45,1.27,-1,1.32,.73,1.52,.78,1.38,.7,1.26,.81,1.26,.38,1.35,.25,1.35,.2,1.22,.43,1.18,.41,1.03,-.01,1.21,1.47,1.55,1.33,1.5,1.15,1.44,1.24,1.37,1.12,1.24,1.31,1.25,.95,1.11,1.6,1.17,1.92,1.39,2.65,1.67,2.76,1.36,2.84,1.29,2.42,1.27,2.58,1.2,2.97,1.1,3.12,1.05,3.07,1,3.2,.96,3.12,.92,3.18,.87,-1.03,1.15,-.97,1.03,-.9,1.01,-.95,.96,-.34,1.09,-.08,1.06,-.27,.96,-.84,.89,-1.05,.89,-1.15,.8,-.64,.86,-.75,.74,-.41,.83,-.06,.84,1.12,.92,1.24,.9,2.45,.85,2.56,.77,2.84,.8,2.84,.68,.33,.76,.53,.77,.59,.74,.96,.79,1.03,.65,-.23,.71,.05,.66,-1.46,.6,-1.33,.49,-.93,.57,-.79,.55,-.74,.44,-.47,.57,-.23,.54,-.41,.46,.02,.52,.23,.52,.41,.55,.23,.44,.74,.6,.78,.49,1.51,.64,1.55,.51,1.77,.62,1.84,.45,2.09,.61,2.33,.54,2.51,.6,2.7,.56,.48,.4,1.3,.4,2.14,.41,2.3,.46,-.52,.31,-.31,.34,-.13,.34,.41,.3,.14,.26,2.1,.31,2.21,.31,2.33,.31,-.52,.22,-.46,.21,-.02,.21,.27,.24,.36,.22,1.31,.25,1.42,.18,2.03,.18,2.17,.24,2.42,.2,2.52,.17,-.81,.14,-.72,.1,.2,.09,1.16,.11,2.19,.09,-1.6,.08,-1.6,-.02,-1.6,-.11,-1.19,-.03,-.33,-.04,.34,-.01,.56,-.06,1.13,0,1.63,-.02,1.89,0,2.19,-.02,1.48,-.08,.14,-.07,.97,-.1,.41,-.15,.63,-.13,-.57,-.2,-.45,-.27,-.8,-.28,.18,-.26,.52,-.2,2.12,-.3,.99,-.24,.79,-.26,.63,-.28,.9,-.28,.45,-.33,.79,-.33,-.7,-.35,-.61,-.31,-.1,-.41,-1.28,-.41,-.72,-.46,-.54,-.46,-.96,-.47,.89,-.48,.76,-.54,.66,-.54,-.45,-.55,.09,-.5,.2,-.54,-1.04,-.57,-.86,-.57,-.18,-.61,-.02,-.59,.14,-.59,-1.24,-.67,-1.06,-.66,-.93,-.68,-.79,-.74,-.44,-.72,-.25,-.7,.05,-.66,.46,-.7,.46,-.75,-1.02,-.8,-.88,-.81,-.74,-.9,-.42,-.84,.1,-.87,
2.82,-.85,2.86,-1,2.86,-1.17,2.99,-1.67,3.3,-2.25,
1.5,-1.52,1.35,-1.62,1.31,-1.66,1.35,-1.73,.84,-1.73,1.11,-1.77,.9,-1.83,1.04,-1.82,.89,-1.92,.48,-1.84,.45,-1.97,.08,-1.83,-.05,-1.85,-.36,-1.84,-.52,-1.89,-.43,-1.92,-.68,-1.99,-.52,-2.03,-.38,-2.01,-.27,-1.97,-.18,-2.03,-.17,-2.14,-.05,-2.07,.11,-2.05,.25,-2.02,-.09,-2.12,
-1,-.62,-.95,-.72,-.9,-.62,-.85,-.7,-.98,-.52,-.9,-.5,-.8,-.42,-.75,-.4,-.65,-.42,-.6,-.38,-1,-.7,.05,-.58,.1,-.52,0,-.5,.15,-.53,2.15,.3,2.2,.2,2.25,.25,2.1,.2,2.2,.38,-.2,1.7,-.15,1.55,-.25,1.6,1.15,7.25,1,7.25,1,7.35,1.3,8.4,1.25,8.45,1.3,7.85,-.4,-1.93,-.45,-1.98,-.3,-2,-.25,-2.05,-.1,-2,0,-2.03];

const week7 = [5.16,1.63,4.86,1.34,4.97,1.35,4.9,1.1,4.87,.82,5.34,.88,5.59,.84,5.56,.74,5.12,.49,5.13,.42,5.01,.21,5.13,.23,5.22,.2,5.26,.06,2.98,1.32,8.52,1.52,8.76,1.39,8.81,1.31,8.85,1.25,8.81,1.22,8.86,1.21,8.7,.55,8.33,.36,7.57,.23,7.27,.44,6.49,.48,6.59,.48,6.38,.39,6.53,.39,6.12,.11,6.23,.17,6.39,.24,6.48,.17,6.59,.24,6.68,.2,6.79,.24,6.9,.22,6.97,.13,7.05,.06,6.37,.06,6.5,.09,6.64,.09,6.77,.06,6.91,.02,6.38,0,5.88,-.06,6.13,-.06,7.2,-.11,7.25,.02,7.36,.02,7.53,.04,7.26,-.13,7.39,-.11,7.35,-.2,7.52,-.28,7.57,-.15,7.74,-.11,7.72,-.22,7.9,-.17,7.99,-.24,8.08,-.13,8.21,-.13,8.33,-.15,8.11,.09,8.21,.04,8.27,-.24,8.34,-.33,8.44,-.36,7.65,-.41,8.13,-.42,8.22,-.46,7.79,-.65,7.95,-.61,8.04,-.57,8.15,-.54,8.33,-.63,8.04,-.68,8.17,-.68,8.56,-.75,8.58,-.74,7.99,-.76,8.15,-.77,8.06,-.85,8.24,-.85,8.57,-.98,8.29,-.98,8.24,-1.07,8.6,-1.17,8.04,-1.15,8.15,-1.16,8.24,-1.18,8.15,-1.29,8.02,-1.46,8.11,-1.51,8.08,-1.62,8.17,-1.72,8.06,-1.73,8.04,-1.83,8.02,-1.94,7.99,-1.99,7.95,-2.08,7.86,-2.25,7.74,-2.36,7.69,-2.5,
4.75,-.16,4.92,-.42,5.33,-.39,5.24,-.41,5.15,-.48,5.28,-.59,5.1,-.57,5.04,-.74,4.62,-.67,4.83,-.72,4.92,-.76,4.74,-.77,4.79,-.83,4.52,-.91,4.7,-.9,4.65,-1.06,4.58,-1.11,4.65,-1.23,4.56,-1.24,4.34,-1.36,4.58,-1.33,4.45,-1.4,4.56,-1.48,4.43,-1.53,4.34,-1.62,4.3,-1.72,4.02,-1.72,3.79,-1.94,3.18,-.53,3.44,-1.76,3.06,-1.78,3.13,-2.04,3.14,-2.15,3.28,-2.2,3.44,-2.13,3.48,-2.21,3.28,-2.42,3.12,-2.5,3.21,-2.51,3.16,-2.62,3.13,-2.7,3.21,-2.77,3.47,-2.77,3.19,-2.84,3.22,-2.87,3.29,-3.18,3.26,-3.27,2.95,-1.26,
5.86,-.73,5.99,-.75,6.72,-.79,6.71,-.97,6.67,-1,6.25,-.95,6.35,-1.01,6.5,-1.22,6.57,-1.31,6.62,-1.4,6.01,-1.37,6.68,-1.57,6.77,-1.62,6.82,-1.72,6.93,-1.81,6.98,-1.88,7.02,-1.92,7.07,-1.9,
4.66,-2.71,4.7,-2.79,4.79,-2.84,4.87,-2.9,4.64,-3.03,4.64,-3.11,5.8,-2.84,6.06,-3.31,
5.46,3.4,5.84,2.95,6.08,2.84,6.44,2.64,6.56,2.6,7.2,2.42,7.26,2.33,7.38,2.33,7.54,2.27,7.65,2.23,7.88,2.12,7.97,2.02,3.37,2.11,
4.97,-3.26,5.07,-3.32,5.18,-3.4,5.28,-3.47,5.39,-3.56,5.55,-3.61,5.44,-3.73,5.55,-3.85,5.65,-3.9,5.81,-4,5.91,-4.09,6.02,-4.17,6.18,-4.21,6.28,-4.29,6.12,-4.38,6.25,-4.48,4.97,-3.81,5.36,-4.17,5.37,-4.33,5.65,-4.41,6.44,-3.94,6.54,-3.93,6.64,-4.04,6.21,-4.72,6.33,-4.87,6.49,-4.72,6.54,-4.87,6.65,-4.96,6.7,-5.11,6.66,-5.3,6.95,-5.03,
3.2,-4.16,3.43,-4.29,3.5,-4.53,3.55,-4.67,3.66,-4.7,3.58,-4.77,3.67,-4.96,2.93,-4.69,3.14,-4.77,3.08,-4.96,3.08,-5.11,3.13,-5.28,2.94,-5.39,3.08,-5.35,3.15,-5.49,3.61,-5.47,3.99,-5.32,4.02,-5.52,4.2,-5.44,4.13,-5.56,4.21,-5.64,4.14,-6.02,3.18,-5.71,3.32,-5.92,3.18,-6.07,3.29,-6.07,3.24,-6.23,3.39,-6.31,3.45,-6.45,3.5,-6.55,3.6,-6.6,3.62,-6.74,3.81,-6.74,3.97,-6.5,3.97,-6.79,4.18,-6.89,4.23,-7.03,4.36,-6.98,4.55,-7.06,4.55,-7.2,4.7,-7.13,4.88,-6.94,4.86,-7.13,5.07,-7.08,5.13,-7.2,5.28,-7.13,5.49,-7.11,5.35,-7.4,5.55,-7.27,5.7,-7.2,5.86,-7.27,6.02,-7.24,6.15,-7.3,6.42,-7.35,6.54,-7.32,6.65,-7.42,6.81,-7.49,7.02,-7.35,7.07,-7.47,7.02,-7.58,7.17,-7.66,7.33,-7.73,7.44,-7.37,7.49,-7.68,7.65,-7.61,7.59,-7.47,7.75,-7.35,7.9,-7.15,
5.49,-6.36,5.6,-6.36,5.7,-6.36,5.81,-6.41,
3.71,-7.81,3.63,-8.12,3.83,-8.69,4.09,-8.89,3.9,-9.01,3.97,-9.1,4.13,-9.06,4.39,-9.06,4.08,-9.22,4.23,-9.15,4.34,-9.3,4.44,-9.23,4.5,-9.39,4.65,-9.34,4.32,-9.44,4.52,-9.54,4.67,-9.54,4.84,-8.82,5.25,-8.86,5.62,-9.08,4.91,-9.59,5.04,-9.41,5.23,-9.42,5.18,-9.52,5.23,-9.57,5.39,-9.49,5.55,-9.47,5.7,-9.39,5.81,-9.3,
7.17,-7.97,7.3,-7.95,6.02,-9.34,6.13,-9.25,6.28,-9.2,6.3,-9.05,
6.3,.1,6.45,.05,6.55,.15,6.7,.13,6.85,.15,6.45,.22,6.6,.12,7.3,-.05,7.4,-.2,7.45,-.2,7.5,-.15,7.85,-.1,8,-.12,8.1,-.2,8.1,-.65,8.1,-.72,8.2,-.6,8.05,-.75,8.1,-.8,8.15,-.9,8.2,-1.05,8.1,-1.2,8.05,-1.7,8.05,-1.9,7.98,-1.95,7.9,-2.15,4.85,-.78,4.97,-.7,5,-.62,5.15,-.55,4.63,-1.15,4.6,-1.25,4.55,-1.35,4.45,-1.45,4.97,-3.28,5.1,-3.35,5.32,-3.5,5.48,-3.65,5.72,-3.97,5.95,-4.12,6.1,-4.2,6.3,-4.4,6.55,-4.92,3.15,-6.1,3.36,-6.3,3.45,-6.55,3.55,-6.65,4.6,-7.12,4.75,-7.15,5,-7.15,7.1,-7.55,7.25,-7.7,7.4,-7.7,4.2,-9.2,4.4,-9.35,4.55,-9.45,5.1,-9.47,5.3,-9.5,5.45,-9.48];

const classNames = ["Brocoli_green_weeds_1","Corn_senesced_green_weeds","Lettuce_romaine_4wk","Lettuce_romaine_5wk","Lettuce_romaine_6wk","Lettuce_romaine_7wk"];
const classColors = ["#ff0000","#008000","#0000ff","#bfbf00","#bf00bf","#00bfbf"];
const classValues = [brocoli, cornUpper.concat(cornStray, cornCentre, cornDense), week4, week5, week6, week7];
const xTicks = [-10,-5,0,5,10,15];
const yTicks = [-10,-5,0,5,10];

const W = 2416, H = 2564;
const L = 192.9, R = 2387.3, T = 94.9, B = 2274.3;
const x = d3.scaleLinear().domain([-13.82, 15.9]).range([L, R]);
const y = d3.scaleLinear().domain([12, -12.135]).range([T, B]);
const font = "'DejaVu Sans', sans-serif";
const fmt = (v: number) => (v < 0 ? "\u2212" + Math.abs(v) : String(v));
const pairs = (a: number[]) => d3.range(0, a.length - 1, 2).map((i) => [a[i], a[i + 1]]);

export default function App() {
  const lx = 1650.5, ly = 1887.3, lw = 717.2, lh = 367.7;
  return (
    <svg width={W} height={H} viewBox={`0 0 ${W} ${H}`} style={{ position: "absolute", left: 0, top: 0, background: "#fff" }}>
      <g stroke="#b0b0b0" strokeWidth={3}>
        {xTicks.map((t) => <line key={t} x1={x(t)} x2={x(t)} y1={T} y2={B} />)}
        {yTicks.map((t) => <line key={t} x1={L} x2={R} y1={y(t)} y2={y(t)} />)}
      </g>
      {classValues.map((vals, i) => (
        <g key={i} fill={classColors[i]}>
          {pairs(vals).map((p, j) => <circle key={j} cx={x(p[0])} cy={y(p[1])} r={7.8} />)}
        </g>
      ))}
      <rect x={L} y={T} width={R - L} height={B - T} fill="none" stroke="#000" strokeWidth={3} />
      <g stroke="#000" strokeWidth={3}>
        {xTicks.map((t) => <line key={t} x1={x(t)} x2={x(t)} y1={B} y2={B + 12} />)}
        {yTicks.map((t) => <line key={t} x1={L - 12} x2={L} y1={y(t)} y2={y(t)} />)}
      </g>
      <g fontFamily={font} fontSize={38} fill="#000">
        {xTicks.map((t) => <text key={t} x={x(t)} y={2332} textAnchor="middle">{fmt(t)}</text>)}
        {yTicks.map((t) => <text key={t} x={165} y={y(t) + 14} textAnchor="end">{fmt(t)}</text>)}
      </g>
      <text x={(L + R) / 2} y={72} fontFamily={font} fontSize={63} textAnchor="middle">tSNE on SalinusA Dataset</text>
      <text x={(L + R) / 2} y={2391} fontFamily={font} fontSize={47} textAnchor="middle">tSNE-1</text>
      <text transform={`translate(59,1184) rotate(-90)`} fontFamily={font} fontSize={47} textAnchor="middle">tSNE-2</text>
      <rect x={lx} y={ly} width={lw} height={lh} rx={8} fill="#fff" fillOpacity={0.8} stroke="#cccccc" strokeOpacity={0.8} strokeWidth={3} />
      {classNames.map((n, i) => (
        <g key={n}>
          <circle cx={1705} cy={1922.7 + i * 59.3} r={7.8} fill={classColors[i]} />
          <text x={1775} y={1932.7 + i * 59.3} fontFamily={font} fontSize={39.2}>{n}</text>
        </g>
      ))}
      <text x={1204} y={2530} fontFamily="'Liberation Serif', serif" fontSize={88} textAnchor="middle">(<tspan fontWeight="bold">b</tspan>)</text>
    </svg>
  );
}
